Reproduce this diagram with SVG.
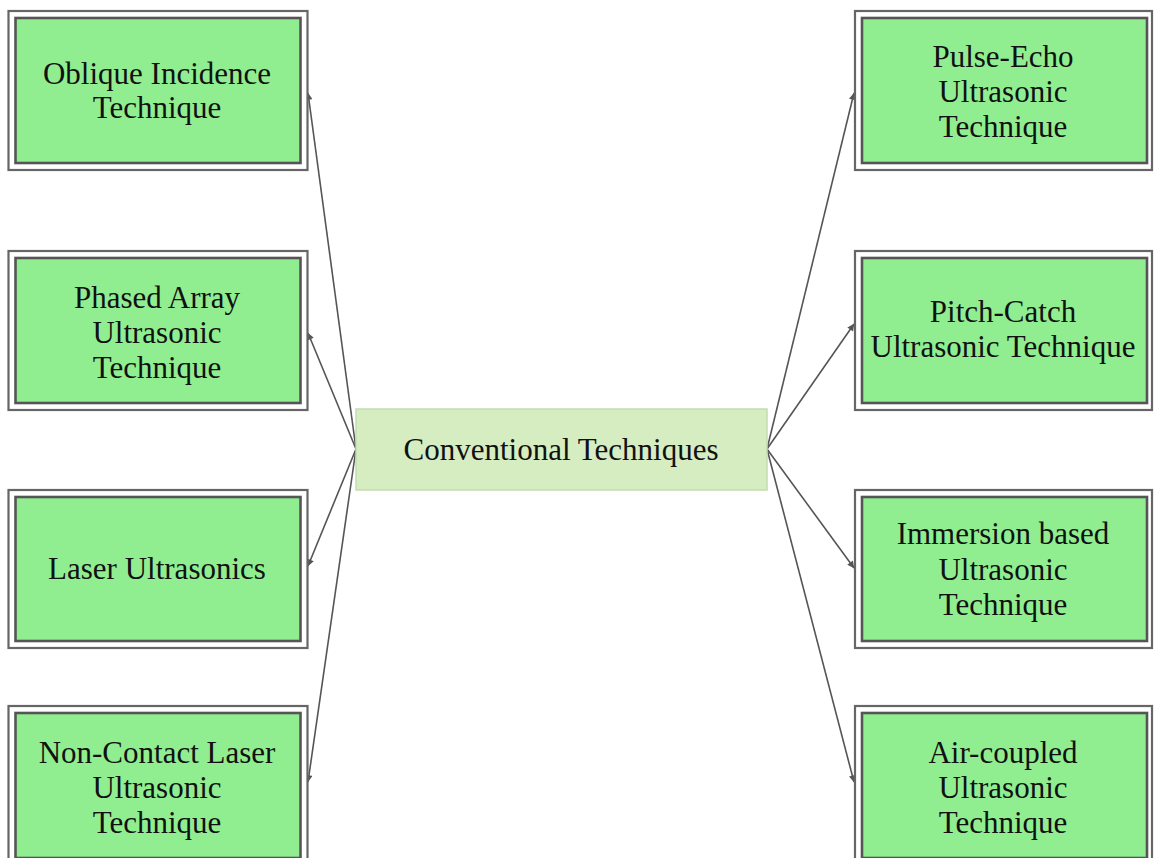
<svg xmlns="http://www.w3.org/2000/svg" width="1155" height="858" viewBox="0 0 1155 858">
  <defs>
    <marker id="arrow" viewBox="0 0 10 10" refX="9.5" refY="5" markerWidth="9" markerHeight="7" markerUnits="userSpaceOnUse" orient="auto">
      <path d="M0,0 L10,5 L0,10 z" fill="#555"/>
    </marker>
    <style>
      .outer { fill: #ffffff; stroke: #666666; stroke-width: 2.2; }
      .inner { fill: #90ee90; stroke: #555555; stroke-width: 2.6; }
      .hub { fill: #d5edc1; stroke: #c4dbb2; stroke-width: 1.5; }
      .label { font-family: "Liberation Serif", "Times New Roman", serif; font-size: 31px; fill: #111111; text-anchor: middle; }
      .link { stroke: #555555; stroke-width: 1.6; fill: none; marker-end: url(#arrow); }
    </style>
  </defs>
  <rect width="1155" height="858" fill="#ffffff"/>

  <!-- connectors from the hub to each technique -->
  <g id="connectors">
    <line class="link" x1="356" y1="449" x2="308" y2="93"/>
    <line class="link" x1="356" y1="449" x2="308" y2="333"/>
    <line class="link" x1="356" y1="449" x2="308" y2="566"/>
    <line class="link" x1="356" y1="449" x2="308" y2="782"/>
    <line class="link" x1="767" y1="449" x2="854" y2="93"/>
    <line class="link" x1="767" y1="449" x2="854" y2="324"/>
    <line class="link" x1="767" y1="449" x2="854" y2="568"/>
    <line class="link" x1="767" y1="449" x2="854" y2="782"/>
  </g>

  <!-- hub -->
  <g id="conventional">
    <rect class="hub" x="356" y="409" width="411" height="81"/>
    <text class="label" x="561" y="460">Conventional Techniques</text>
  </g>

  <!-- left column -->
  <g id="oblique">
    <rect class="outer" x="8.5" y="11" width="299" height="159"/>
    <rect class="inner" x="15.5" y="18" width="285" height="145"/>
    <text class="label" x="157" y="84">Oblique Incidence</text>
    <text class="label" x="157" y="118">Technique</text>
  </g>
  <g id="phased-array">
    <rect class="outer" x="8.5" y="251" width="299" height="159"/>
    <rect class="inner" x="15.5" y="258" width="285" height="145"/>
    <text class="label" x="157" y="308">Phased Array</text>
    <text class="label" x="157" y="343">Ultrasonic</text>
    <text class="label" x="157" y="378">Technique</text>
  </g>
  <g id="laser">
    <rect class="outer" x="8.5" y="490" width="299" height="158"/>
    <rect class="inner" x="15.5" y="497" width="285" height="144"/>
    <text class="label" x="157" y="579">Laser Ultrasonics</text>
  </g>
  <g id="non-contact-laser">
    <rect class="outer" x="8.5" y="706" width="299" height="159"/>
    <rect class="inner" x="15.5" y="713" width="285" height="145"/>
    <text class="label" x="157" y="763">Non-Contact Laser</text>
    <text class="label" x="157" y="798">Ultrasonic</text>
    <text class="label" x="157" y="833">Technique</text>
  </g>

  <!-- right column -->
  <g id="pulse-echo">
    <rect class="outer" x="855" y="11" width="297" height="159"/>
    <rect class="inner" x="862" y="18" width="285" height="145"/>
    <text class="label" x="1003" y="67">Pulse-Echo</text>
    <text class="label" x="1003" y="102">Ultrasonic</text>
    <text class="label" x="1003" y="137">Technique</text>
  </g>
  <g id="pitch-catch">
    <rect class="outer" x="855" y="251" width="297" height="159"/>
    <rect class="inner" x="862" y="258" width="285" height="145"/>
    <text class="label" x="1003" y="322">Pitch-Catch</text>
    <text class="label" x="1003" y="357">Ultrasonic Technique</text>
  </g>
  <g id="immersion">
    <rect class="outer" x="855" y="490" width="297" height="158"/>
    <rect class="inner" x="862" y="497" width="285" height="144"/>
    <text class="label" x="1003" y="544">Immersion based</text>
    <text class="label" x="1003" y="580">Ultrasonic</text>
    <text class="label" x="1003" y="615">Technique</text>
  </g>
  <g id="air-coupled">
    <rect class="outer" x="855" y="706" width="297" height="159"/>
    <rect class="inner" x="862" y="713" width="285" height="145"/>
    <text class="label" x="1003" y="763">Air-coupled</text>
    <text class="label" x="1003" y="798">Ultrasonic</text>
    <text class="label" x="1003" y="833">Technique</text>
  </g>
</svg>
